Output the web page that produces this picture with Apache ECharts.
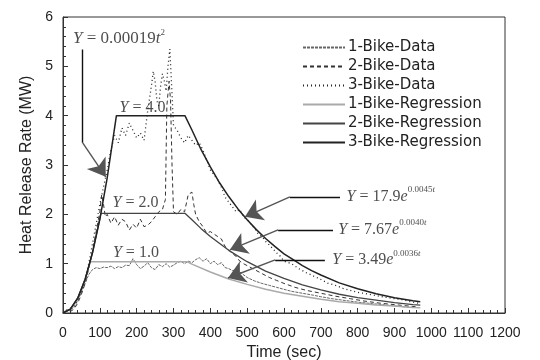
<!DOCTYPE html>
<html>
<head>
<meta charset="utf-8">
<script src="https://cdn.jsdelivr.net/npm/echarts@6/dist/echarts.min.js"></script>
<style>
  html, body { margin: 0; padding: 0; background: #fff; }
  #chart { width: 540px; height: 360px; }
</style>
</head>
<body>
<div id="chart"></div>
<script>
// values: [time (sec), HRR (MW)]
var seriesNames = ['1-Bike-Data', '2-Bike-Data', '3-Bike-Data',
  '1-Bike-Regression', '2-Bike-Regression', '3-Bike-Regression'];

var bike1Data = [[0,0.02],[10,0.05],[20,0.06],[30,0.12],[40,0.25],[50,0.42],[60,0.6],[70,0.78],[80,0.88],
  [90,0.92],[100,0.9],[110,0.93],[120,0.92],[130,0.95],[140,0.9],[150,0.94],[160,0.92],[170,0.97],[180,0.96],
  [190,1.1],[200,0.98],[210,0.9],[220,0.95],[230,1.02],[240,0.92],[250,0.88],[260,0.98],[270,0.94],[280,1.0],
  [290,0.93],[300,0.97],[310,1.02],[320,1.05],[330,1.0],[340,1.05],[350,1.02],[360,1.08],[370,1.12],[380,1.05],
  [390,1.1],[400,1.0],[410,1.05],[420,0.98],[430,1.02],[440,0.92],[450,0.9],[460,0.86],[470,0.87],[480,0.83],
  [500,0.72],[520,0.65],[540,0.6],[560,0.56],[580,0.52],[600,0.48],[620,0.44],[650,0.4],[680,0.36],[700,0.33],
  [730,0.29],[760,0.26],[800,0.22],[840,0.19],[880,0.16],[920,0.13],[950,0.11]];

var bike2Data = [[0,0.02],[10,0.04],[20,0.03],[30,0.08],[40,0.2],[50,0.38],[60,0.6],[70,0.9],[80,1.25],
  [90,1.65],[100,2.05],[105,2.4],[110,2.2],[115,1.95],[120,2.0],[130,1.82],[140,1.95],[150,1.78],[160,1.9],
  [170,1.85],[180,1.68],[190,1.8],[200,1.72],[210,1.9],[220,1.75],[230,1.78],[240,1.85],[250,1.95],[260,2.05],
  [270,2.1],[278,2.3],[282,4.2],[288,4.7],[292,4.3],[296,3.0],[300,2.05],[310,2.0],[320,2.1],[330,2.05],
  [340,2.4],[350,2.45],[355,2.2],[360,2.0],[370,1.85],[380,1.75],[390,1.62],[400,1.65],[410,1.6],[420,1.55],
  [430,1.5],[440,1.35],[450,1.28],[460,1.2],[470,1.15],[480,1.05],[490,1.0],[500,0.96],[520,0.88],[540,0.8],
  [560,0.72],[580,0.66],[600,0.6],[630,0.52],[660,0.46],[700,0.4],[740,0.34],[780,0.29],[820,0.24],[860,0.2],
  [900,0.17],[940,0.14],[965,0.12]];

var bike3Data = [[0,0.02],[10,0.06],[20,0.1],[30,0.15],[40,0.28],[50,0.45],[60,0.7],[70,1.0],[80,1.4],
  [90,1.8],[100,2.2],[110,2.55],[120,2.9],[130,3.3],[140,3.6],[150,3.45],[160,3.75],[170,3.6],[180,3.85],
  [190,3.7],[200,3.55],[210,3.65],[220,3.5],[230,4.1],[240,4.6],[245,4.9],[250,4.7],[255,4.3],[260,4.2],
  [265,4.6],[270,4.85],[275,4.7],[280,4.5],[285,5.0],[290,5.35],[295,4.6],[300,3.8],[310,3.7],[320,3.55],
  [330,3.45],[340,3.6],[350,3.5],[360,3.4],[370,3.45],[380,3.3],[390,3.1],[400,2.9],[410,2.8],[420,2.7],
  [430,2.55],[440,2.35],[450,2.25],[460,2.15],[470,2.05],[480,2.1],[490,1.95],[500,1.9],[510,1.8],[520,1.72],
  [530,1.6],[540,1.55],[550,1.45],[560,1.38],[570,1.3],[580,1.22],[590,1.15],[600,1.05],[620,1.0],[640,0.9],
  [660,0.82],[680,0.75],[700,0.68],[720,0.6],[740,0.56],[760,0.5],[780,0.46],[800,0.42],[830,0.38],[860,0.34],
  [890,0.3],[920,0.27],[950,0.22],[965,0.2]];

var bike1Reg = [[0,0],[20,0.08],[40,0.3],[60,0.68],[74,1.04],[336,1.04],[350,0.99],[400,0.83],[450,0.69],
  [500,0.58],[550,0.48],[600,0.40],[650,0.34],[700,0.28],[750,0.23],[800,0.2],[850,0.16],[900,0.14],
  [950,0.11],[970,0.106]];

var bike2Reg = [[0,0],[20,0.08],[40,0.3],[60,0.68],[80,1.22],[103,2.02],[331,2.02],[350,1.89],[375,1.71],
  [400,1.55],[450,1.27],[500,1.04],[550,0.85],[600,0.70],[650,0.57],[700,0.47],[750,0.38],[800,0.31],
  [850,0.26],[900,0.21],[950,0.17],[970,0.16]];

var bike3Reg = [[0,0],[20,0.08],[40,0.3],[60,0.68],[80,1.22],[100,1.9],[120,2.74],[145,4.0],[331,4.0],
  [350,3.71],[375,3.31],[400,2.96],[425,2.64],[450,2.36],[475,2.11],[500,1.89],[525,1.69],[550,1.51],
  [575,1.35],[600,1.2],[625,1.08],[650,0.96],[675,0.86],[700,0.77],[750,0.61],[800,0.49],[850,0.39],
  [900,0.31],[950,0.25],[970,0.228]];

var xTicks = { min: 0, max: 1200, step: 100 };
var yTicks = { min: 0, max: 6, step: 1 };

var serif = 'Liberation Serif';
var rich = {
  i: { fontFamily: serif, fontStyle: 'italic', fontSize: 16, color: '#222' },
  n: { fontFamily: serif, fontSize: 16, color: '#222' },
  I: { fontFamily: serif, fontStyle: 'italic', fontSize: 17, color: '#222' },
  N: { fontFamily: serif, fontSize: 17, color: '#222' },
  s: { fontFamily: serif, fontSize: 9, color: '#222', verticalAlign: 'top', lineHeight: 22 },
  si: { fontFamily: serif, fontStyle: 'italic', fontSize: 9, color: '#222', verticalAlign: 'top', lineHeight: 22 }
};

// annotation text: [t, v, text, anchor]
var notes = [
  [27, 5.56, '{I|Y}{N| = 0.00019}{I|t}{s|2}', 'right'],
  [216, 4.16, '{i|Y}{n| = 4.0}', 'inside'],
  [197, 2.23, '{i|Y}{n| = 2.0}', 'inside'],
  [198, 1.22, '{i|Y}{n| = 1.0}', 'inside'],
  [770, 2.36, '{i|Y}{n| = 17.9}{i|e}{s|0.0045}{si|t}', 'right'],
  [747, 1.69, '{i|Y}{n| = 7.67}{i|e}{s|0.0040}{si|t}', 'right'],
  [731, 1.08, '{i|Y}{n| = 3.49}{i|e}{s|0.0036}{si|t}', 'right']
];

// leader lines and arrow segments
var leaders = [
  [[53.5, 5.34], [53.5, 3.45]],
  [[752, 2.355], [616, 2.355]],
  [[733, 1.685], [584, 1.685]],
  [[711, 1.076], [576, 1.076]]
];
var arrows = [
  [[53.5, 3.45], [116, 2.76]],
  [[616, 2.355], [494, 1.95]],
  [[584, 1.685], [453, 1.28]],
  [[576, 1.076], [448, 0.71]]
];

var chart = echarts.init(document.getElementById('chart'));

function lineSeries(name, data, color, type, width) {
  return {
    name: name, type: 'line', data: data, symbol: 'none', smooth: false,
    lineStyle: { color: color, type: type, width: width },
    itemStyle: { color: color },
    animation: false
  };
}

var axisFont = 'Liberation Sans';

chart.setOption({
  backgroundColor: '#fff',
  animation: false,
  grid: { left: 63, right: 35, top: 17, bottom: 47, show: true, borderColor: '#333', borderWidth: 1, outerBoundsMode: 'none' },
  legend: {
    data: seriesNames,
    orient: 'vertical', left: 297, top: 35,
    itemWidth: 42, itemHeight: 14, itemGap: 4,
    itemStyle: { opacity: 0, borderWidth: 0 },
    textStyle: { fontFamily: 'DejaVu Sans', fontSize: 15, color: '#222', padding: [0, 0, 0, -2] }
  },
  xAxis: {
    type: 'value', min: xTicks.min, max: xTicks.max, interval: xTicks.step,
    name: 'Time (sec)', nameLocation: 'middle', nameGap: 30,
    nameTextStyle: { fontFamily: axisFont, fontSize: 16, color: '#222' },
    axisLine: { lineStyle: { color: '#333' } },
    axisTick: { inside: true, length: 5, lineStyle: { color: '#333' } },
    minorTick: { show: true, splitNumber: 5, length: 3, lineStyle: { color: '#333' } },
    axisLabel: { fontFamily: axisFont, fontSize: 14, color: '#222', margin: 13,
      formatter: function (v) { return String(v); } },
    splitLine: { show: false }
  },
  yAxis: {
    type: 'value', min: yTicks.min, max: yTicks.max, interval: yTicks.step,
    name: 'Heat Release Rate (MW)', nameLocation: 'middle', nameGap: 26,
    nameTextStyle: { fontFamily: axisFont, fontSize: 16, color: '#222' },
    axisLine: { show: true, lineStyle: { color: '#333' } },
    axisTick: { show: true, inside: true, length: 5, lineStyle: { color: '#333' } },
    minorTick: { show: true, splitNumber: 5, length: 3, lineStyle: { color: '#333' } },
    axisLabel: { fontFamily: axisFont, fontSize: 14, color: '#222', margin: 10 },
    splitLine: { show: false }
  },
  series: [
    lineSeries('1-Bike-Data', bike1Data, '#666', [3, 1], 1),
    lineSeries('2-Bike-Data', bike2Data, '#333', [4, 3], 1),
    lineSeries('3-Bike-Data', bike3Data, '#222', [1, 3], 1.3),
    lineSeries('1-Bike-Regression', bike1Reg, '#aaa', 'solid', 1.5),
    lineSeries('2-Bike-Regression', bike2Reg, '#444', 'solid', 1.3),
    lineSeries('3-Bike-Regression', bike3Reg, '#222', 'solid', 1.5),
    {
      type: 'lines', coordinateSystem: 'cartesian2d', silent: true, z: 5,
      lineStyle: { color: '#111', width: 1.4, opacity: 1 },
      symbol: 'none',
      data: leaders.map(function (c) { return { coords: c }; })
    },
    {
      type: 'lines', coordinateSystem: 'cartesian2d', silent: true, z: 5,
      lineStyle: { color: '#555', width: 1.4, opacity: 1 },
      symbol: ['none', 'arrow'], symbolSize: 17,
      data: arrows.map(function (c) { return { coords: c }; })
    },
    {
      type: 'scatter', silent: true, z: 6, symbolSize: 0,
      data: notes.map(function (n) {
        return {
          value: [n[0], n[1]],
          label: { show: true, position: n[3], distance: 0, formatter: n[2], rich: rich }
        };
      })
    }
  ]
});
</script>
</body>
</html>
